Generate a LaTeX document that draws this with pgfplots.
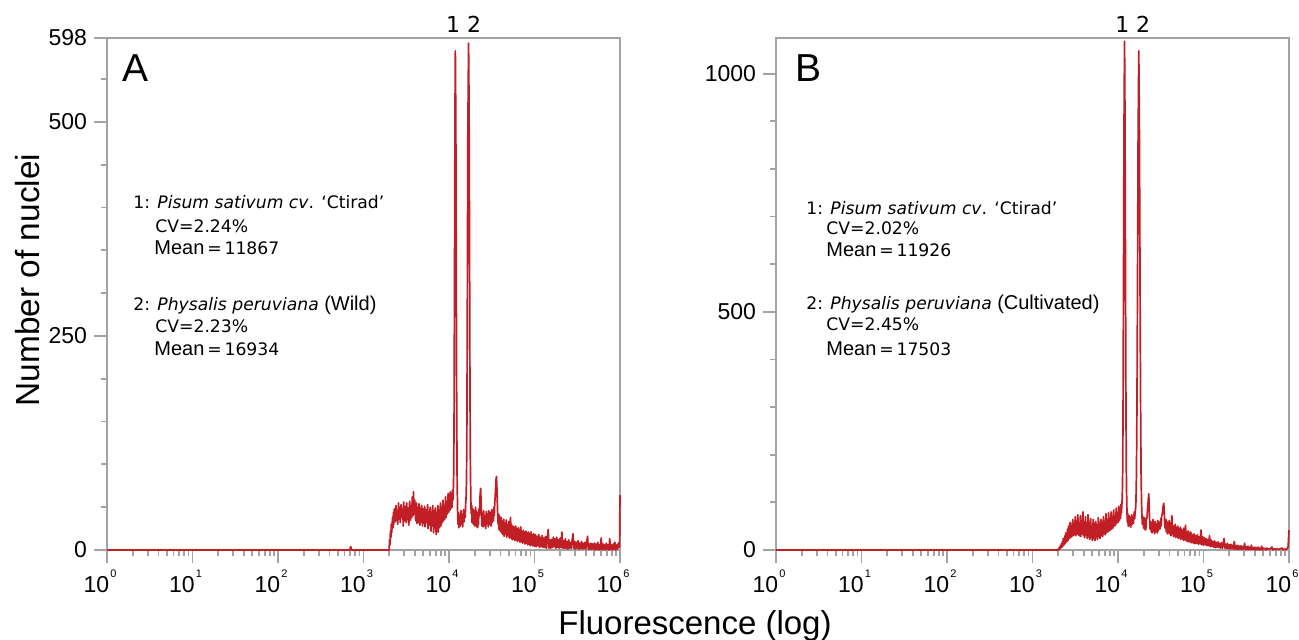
\documentclass[border=0pt]{standalone}
\usepackage{fontspec}
\setmainfont{Liberation Sans}
\newfontfamily\dv{DejaVu Sans}
\usepackage{pgfplots}
\usepackage{pgfplotstable}
\pgfplotsset{compat=1.18}

\definecolor{histred}{RGB}{194,30,38}
\definecolor{framegray}{RGB}{163,163,163}

% columns: log10(fluorescence), number of nuclei
\pgfplotstableread{
lx y
0.00 0
2.84 0
2.85 4
2.86 0
3.30 0
3.305 12
3.31 6
3.315 22
3.32 14
3.325 30
3.33 20
3.34 38
3.345 26
3.35 44
3.355 30
3.36 48
3.37 33
3.38 52
3.385 35
3.39 46
3.40 30
3.41 55
3.415 36
3.42 50
3.43 32
3.44 53
3.45 38
3.46 47
3.465 28
3.47 56
3.48 34
3.49 51
3.50 32
3.505 55
3.51 36
3.52 49
3.53 29
3.54 57
3.55 35
3.56 52
3.565 38
3.57 62
3.58 40
3.585 68
3.59 42
3.60 58
3.61 34
3.62 55
3.625 31
3.63 50
3.64 32
3.65 54
3.66 29
3.67 49
3.675 33
3.68 52
3.69 28
3.70 48
3.71 31
3.715 51
3.72 27
3.73 47
3.74 32
3.75 53
3.755 25
3.76 45
3.77 29
3.78 50
3.79 22
3.795 44
3.80 28
3.81 52
3.82 20
3.825 46
3.83 26
3.84 49
3.85 18
3.855 43
3.86 24
3.87 52
3.875 21
3.88 47
3.89 26
3.90 55
3.905 28
3.91 50
3.92 32
3.93 58
3.935 34
3.94 52
3.95 36
3.96 62
3.965 38
3.97 56
3.98 42
3.99 66
3.995 44
4.00 60
4.01 46
4.015 68
4.02 48
4.03 64
4.035 50
4.04 70
4.045 58
4.050 66
4.055 90
4.060 165
4.065 335
4.070 512
4.0744 583
4.080 498
4.085 325
4.090 168
4.095 82
4.100 48
4.105 30
4.11 44
4.115 26
4.12 40
4.13 28
4.14 46
4.145 30
4.15 42
4.16 27
4.17 47
4.175 33
4.18 44
4.19 38
4.195 55
4.200 62
4.205 82
4.210 155
4.215 305
4.220 480
4.2288 592
4.235 515
4.240 365
4.245 195
4.250 100
4.255 60
4.260 42
4.265 52
4.27 32
4.28 48
4.285 30
4.29 46
4.30 28
4.31 50
4.315 31
4.32 46
4.325 27
4.33 44
4.335 26
4.34 42
4.345 30
4.35 48
4.355 40
4.36 56
4.365 66
4.37 72
4.375 58
4.38 40
4.385 28
4.39 42
4.40 27
4.405 46
4.41 28
4.42 40
4.43 25
4.435 45
4.44 30
4.45 42
4.46 27
4.465 46
4.47 30
4.48 44
4.49 28
4.50 47
4.505 32
4.51 45
4.52 34
4.525 50
4.53 40
4.535 55
4.54 62
4.545 72
4.55 82
4.555 86
4.56 74
4.565 56
4.57 40
4.575 30
4.58 42
4.585 24
4.59 40
4.60 22
4.61 38
4.615 20
4.62 34
4.63 18
4.64 36
4.645 16
4.65 32
4.66 19
4.67 35
4.675 15
4.68 30
4.69 17
4.70 33
4.705 14
4.71 29
4.72 38
4.725 14
4.73 30
4.74 12
4.75 28
4.755 13
4.76 27
4.77 11
4.78 28
4.785 12
4.79 25
4.80 10
4.81 26
4.815 11
4.82 24
4.83 9
4.84 27
4.845 10
4.85 22
4.86 8
4.87 23
4.875 9
4.88 21
4.89 7
4.90 22
4.905 8
4.91 20
4.92 6
4.93 21
4.935 7
4.94 19
4.95 5
4.96 21
4.965 6
4.97 18
4.98 5
4.99 19
5.00 4
5.01 18
5.02 4
5.03 16
5.04 5
5.05 18
5.06 3
5.07 15
5.08 4
5.09 17
5.10 3
5.11 14
5.12 3
5.13 16
5.14 2
5.15 13
5.16 24
5.17 2
5.18 12
5.19 2
5.20 12
5.21 3
5.22 15
5.23 4
5.24 13
5.25 2
5.26 15
5.27 3
5.28 12
5.29 2
5.30 14
5.31 3
5.32 21
5.33 2
5.34 11
5.35 2
5.36 13
5.37 2
5.38 10
5.39 1
5.40 12
5.41 2
5.42 9
5.43 2
5.44 11
5.45 19
5.46 2
5.47 10
5.48 1
5.49 9
5.50 2
5.51 11
5.52 1
5.53 8
5.54 2
5.55 10
5.56 1
5.57 8
5.58 2
5.59 9
5.60 1
5.61 8
5.62 16
5.63 1
5.64 7
5.65 1
5.66 8
5.67 1
5.68 7
5.69 1
5.70 8
5.71 0
5.72 7
5.73 1
5.74 9
5.75 0
5.76 6
5.77 1
5.78 14
5.79 0
5.80 7
5.81 1
5.82 6
5.83 0
5.84 8
5.85 1
5.86 6
5.87 0
5.88 13
5.89 1
5.90 6
5.91 0
5.92 7
5.93 1
5.94 9
5.95 0
5.96 6
5.97 1
5.98 8
5.99 3
5.995 6
6.00 64
}\histA

\pgfplotstableread{
lx y
0.00 0
3.30 0
3.305 3
3.31 1
3.315 6
3.32 2
3.325 9
3.33 4
3.34 14
3.345 6
3.35 18
3.355 8
3.36 24
3.37 11
3.38 30
3.385 14
3.39 36
3.40 17
3.41 44
3.415 20
3.42 50
3.43 24
3.44 58
3.445 26
3.45 52
3.46 28
3.47 64
3.475 30
3.48 56
3.49 32
3.50 70
3.505 30
3.51 60
3.52 34
3.53 74
3.535 32
3.54 58
3.55 30
3.56 72
3.565 28
3.57 62
3.58 34
3.59 80
3.595 30
3.60 60
3.61 26
3.62 70
3.625 32
3.63 56
3.64 24
3.65 74
3.655 28
3.66 58
3.67 22
3.68 66
3.685 26
3.69 52
3.70 20
3.71 64
3.715 24
3.72 56
3.73 20
3.74 60
3.745 26
3.75 54
3.76 22
3.77 68
3.775 28
3.78 56
3.79 24
3.80 64
3.805 30
3.81 58
3.82 28
3.83 70
3.835 34
3.84 60
3.85 32
3.86 76
3.865 36
3.87 64
3.88 38
3.89 78
3.895 40
3.90 66
3.91 42
3.92 80
3.925 44
3.93 70
3.94 46
3.95 84
3.955 50
3.96 72
3.97 52
3.98 88
3.985 56
3.99 76
4.00 58
4.01 92
4.015 62
4.02 84
4.03 66
4.035 96
4.04 78
4.045 94
4.050 112
4.055 170
4.060 330
4.065 600
4.070 880
4.0765 1068
4.082 900
4.087 620
4.092 340
4.097 170
4.102 100
4.107 70
4.11 58
4.115 76
4.12 50
4.13 72
4.135 52
4.14 68
4.15 48
4.16 74
4.165 54
4.17 70
4.18 56
4.19 80
4.195 66
4.20 78
4.205 86
4.210 102
4.215 150
4.220 250
4.225 420
4.230 640
4.235 860
4.2431 1048
4.250 890
4.255 680
4.260 460
4.265 280
4.270 160
4.275 100
4.28 72
4.285 54
4.29 70
4.30 46
4.305 68
4.31 44
4.32 66
4.325 42
4.33 62
4.34 70
4.345 84
4.35 96
4.355 108
4.36 118
4.365 90
4.37 62
4.375 44
4.38 60
4.39 38
4.395 58
4.40 36
4.41 64
4.415 40
4.42 56
4.43 34
4.435 60
4.44 38
4.45 54
4.46 36
4.465 62
4.47 40
4.48 58
4.49 44
4.50 66
4.505 50
4.51 70
4.52 78
4.525 88
4.53 94
4.535 98
4.54 84
4.545 60
4.55 46
4.56 64
4.565 38
4.57 60
4.58 34
4.585 58
4.59 36
4.60 62
4.61 32
4.615 54
4.62 30
4.63 72
4.635 34
4.64 52
4.65 28
4.655 50
4.66 30
4.67 54
4.675 26
4.68 48
4.69 28
4.70 50
4.705 24
4.71 46
4.72 26
4.73 48
4.735 22
4.74 44
4.75 24
4.76 42
4.765 20
4.77 46
4.78 22
4.79 52
4.795 20
4.80 38
4.81 18
4.82 40
4.825 17
4.83 36
4.84 18
4.85 38
4.855 15
4.86 34
4.87 16
4.88 32
4.885 14
4.89 34
4.90 13
4.91 30
4.92 14
4.93 32
4.94 12
4.95 28
4.96 13
4.97 42
4.98 11
4.99 28
5.00 10
5.01 26
5.02 11
5.03 24
5.04 9
5.05 22
5.06 9
5.07 30
5.08 7
5.09 21
5.10 8
5.11 18
5.12 6
5.13 19
5.14 5
5.15 16
5.16 6
5.17 17
5.18 5
5.19 14
5.20 4
5.21 15
5.22 4
5.23 13
5.24 24
5.25 4
5.26 12
5.27 3
5.28 14
5.29 3
5.30 11
5.31 2
5.32 12
5.33 3
5.34 10
5.35 2
5.36 18
5.37 2
5.38 9
5.39 2
5.40 10
5.41 1
5.42 8
5.43 2
5.44 9
5.45 1
5.46 7
5.47 2
5.48 14
5.49 1
5.50 7
5.51 1
5.52 8
5.53 1
5.54 6
5.55 1
5.56 10
5.57 1
5.58 5
5.59 1
5.60 6
5.61 0
5.62 5
5.63 1
5.64 6
5.65 0
5.66 4
5.67 1
5.68 8
5.69 0
5.70 4
5.72 3
5.73 0
5.74 4
5.76 1
5.78 3
5.80 6
5.81 0
5.82 3
5.84 1
5.86 3
5.88 1
5.90 3
5.92 4
5.93 0
5.94 2
5.96 1
5.98 3
5.99 8
6.00 42
}\histB

\newcommand\decade[1]{10\hspace{0.6pt}\raisebox{7.2pt}{\fontsize{5.5}{5.5}\selectfont #1}}

\begin{document}
\begin{tikzpicture}
\path[use as bounding box] (0,0) rectangle (649.5pt,320pt);

\begin{axis}[at={(53.5pt,45pt)}, anchor=south west,
  scale only axis, width=256.5pt, height=256pt,
  xmin=0, xmax=6, ymin=0, ymax=598,
  axis line style={framegray, line width=1.2pt},
  tick style={framegray, line width=0.9pt},
  tick align=outside, xtick pos=bottom, ytick pos=left,
  major tick length=6.5pt, minor tick length=3pt,
  xtick={0,1,2,3,4,5,6},
  xticklabels={\decade{0},\decade{1},\decade{2},\decade{3},\decade{4},\decade{5},\decade{6}},
  minor xtick={0.301,0.477,0.602,0.699,0.778,0.845,0.903,0.954,1.301,1.477,1.602,1.699,1.778,1.845,1.903,1.954,2.301,2.477,2.602,2.699,2.778,2.845,2.903,2.954,3.301,3.477,3.602,3.699,3.778,3.845,3.903,3.954,4.301,4.477,4.602,4.699,4.778,4.845,4.903,4.954,5.301,5.477,5.602,5.699,5.778,5.845,5.903,5.954},
  ytick={0,250,500,598}, yticklabels={0,250,500,598},
  minor ytick={50,100,150,200,300,350,400,450,550},
  tick label style={font=\fontsize{11.5}{12}\selectfont},
  xticklabel style={xshift=-3.5pt},
  clip=false]
\addplot[histred, line width=0.85pt, line join=round] table[x=lx, y=y] {\histA};
\end{axis}

\begin{axis}[at={(388pt,45pt)}, anchor=south west,
  scale only axis, width=256.5pt, height=256pt,
  xmin=0, xmax=6, ymin=0, ymax=1075,
  axis line style={framegray, line width=1.2pt},
  tick style={framegray, line width=0.9pt},
  tick align=outside, xtick pos=bottom, ytick pos=left,
  major tick length=6.5pt, minor tick length=3pt,
  xtick={0,1,2,3,4,5,6},
  xticklabels={\decade{0},\decade{1},\decade{2},\decade{3},\decade{4},\decade{5},\decade{6}},
  minor xtick={0.301,0.477,0.602,0.699,0.778,0.845,0.903,0.954,1.301,1.477,1.602,1.699,1.778,1.845,1.903,1.954,2.301,2.477,2.602,2.699,2.778,2.845,2.903,2.954,3.301,3.477,3.602,3.699,3.778,3.845,3.903,3.954,4.301,4.477,4.602,4.699,4.778,4.845,4.903,4.954,5.301,5.477,5.602,5.699,5.778,5.845,5.903,5.954},
  ytick={0,500,1000}, yticklabels={0,500,1000},
  minor ytick={100,200,300,400,600,700,800,900},
  tick label style={font=\fontsize{11.5}{12}\selectfont},
  xticklabel style={xshift=-3.5pt},
  clip=false]
\addplot[histred, line width=0.85pt, line join=round] table[x=lx, y=y] {\histB};
\end{axis}

% axis titles
\node[rotate=90, anchor=center, font=\fontsize{16.7}{18}\selectfont] at (14pt,180pt) {Number of nuclei};
\node[anchor=base, font=\fontsize{16.5}{18}\selectfont] at (347.5pt,2.5pt) {Fluorescence (log)};

% panel letters
\node[anchor=base west, inner sep=0pt, font=\fontsize{19.5}{20}\selectfont] at (61pt,279pt) {A};
\node[anchor=base west, inner sep=0pt, font=\fontsize{19.5}{20}\selectfont] at (397.5pt,279pt) {B};

% peak numbers
\node[anchor=base, inner sep=0pt, font=\dv\fontsize{11}{12}\selectfont] at (226.5pt,303.5pt) {1};
\node[anchor=base, inner sep=0pt, font=\dv\fontsize{11}{12}\selectfont] at (237pt,303.5pt) {2};
\node[anchor=base, inner sep=0pt, font=\dv\fontsize{11}{12}\selectfont] at (561.2pt,303.5pt) {1};
\node[anchor=base, inner sep=0pt, font=\dv\fontsize{11}{12}\selectfont] at (571.5pt,303.5pt) {2};

% peak statistics
\tikzset{stat/.style={anchor=base west, inner sep=0pt, font=\dv\fontsize{8.6}{9}\selectfont}}
\newcommand\arl[1]{{\rmfamily\fontsize{10}{11}\selectfont #1}}
\node[stat] at (66.5pt,215.5pt) {1: \textit{Pisum sativum cv}. ‘Ctirad’};
\node[stat] at (77.5pt,203.5pt) {CV=2.24\%};
\node[stat] at (77pt,192.5pt) {\arl{Mean}\,=\,11867};
\node[stat] at (66.5pt,164.5pt) {2: \textit{Physalis peruviana} \arl{(Wild)}};
\node[stat] at (77.5pt,153.5pt) {CV=2.23\%};
\node[stat] at (77pt,142pt) {\arl{Mean}\,=\,16934};

\node[stat] at (403pt,212.5pt) {1: \textit{Pisum sativum cv}. ‘Ctirad’};
\node[stat] at (413pt,202.5pt) {CV=2.02\%};
\node[stat] at (413pt,191.5pt) {\arl{Mean}\,=\,11926};
\node[stat] at (403pt,165pt) {2: \textit{Physalis peruviana} \arl{(Cultivated)}};
\node[stat] at (413pt,154.5pt) {CV=2.45\%};
\node[stat] at (413pt,142pt) {\arl{Mean}\,=\,17503};
\end{tikzpicture}
\end{document}
